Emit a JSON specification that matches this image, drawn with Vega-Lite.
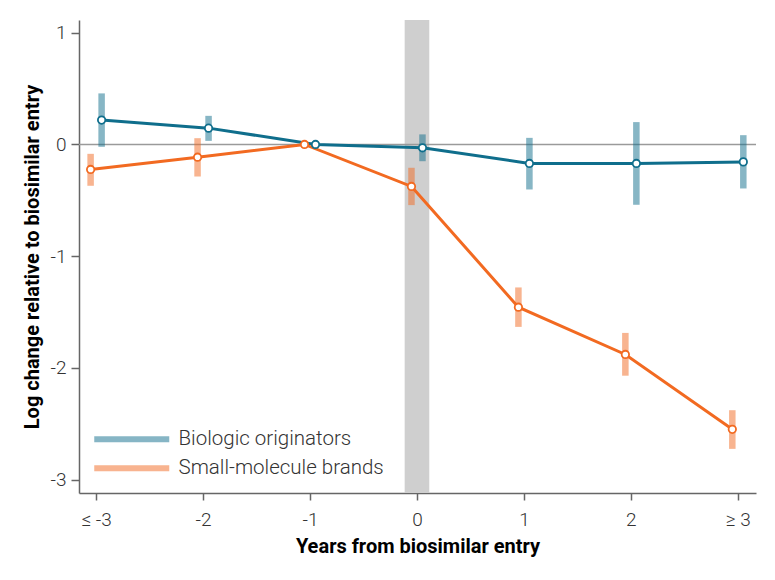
{
  "$schema": "https://vega.github.io/schema/vega-lite/v6.json",
  "width": 677,
  "height": 473,
  "autosize": {"type": "none"},
  "padding": {"left": 79, "top": 20, "right": 19, "bottom": 87},
  "config": {
    "view": {"stroke": null},
    "font": "Roboto",
    "axis": {
      "grid": false,
      "domainColor": "#666666",
      "domainWidth": 1.5,
      "tickColor": "#666666",
      "tickWidth": 1.5,
      "tickSize": 8,
      "labelFont": "Roboto",
      "labelFontSize": 19,
      "labelFontWeight": 300,
      "labelColor": "#333333",
      "labelPadding": 5,
      "titleFont": "Roboto",
      "titleFontSize": 20,
      "titleFontWeight": "bold",
      "titleColor": "#000000"
    }
  },
  "layer": [
    {
      "data": {"values": [{"x1": -0.115, "x2": 0.115}]},
      "mark": {"type": "rect", "color": "#cfcfcf"},
      "encoding": {
        "x": {"field": "x1", "type": "quantitative", "title": "Years from biosimilar entry", "scale": {"domain": [-3.16, 3.17], "nice": false, "zero": false}},
        "x2": {"field": "x2"}
      }
    },
    {
      "data": {"values": [{}]},
      "mark": {"type": "rule", "color": "#9a9a9a", "strokeWidth": 1.5},
      "encoding": {
        "y": {"datum": 0, "type": "quantitative", "title": "Log change relative to biosimilar entry"}
      }
    },
    {
      "data": {
        "values": [
          {"group": "Biologic originators", "year": -3, "est": 0.218, "lo": -0.021, "hi": 0.457},
          {"group": "Biologic originators", "year": -2, "est": 0.146, "lo": 0.032, "hi": 0.256},
          {"group": "Biologic originators", "year": -1, "est": 0, "lo": null, "hi": null},
          {"group": "Biologic originators", "year": 0, "est": -0.03, "lo": -0.15, "hi": 0.09},
          {"group": "Biologic originators", "year": 1, "est": -0.17, "lo": -0.403, "hi": 0.059},
          {"group": "Biologic originators", "year": 2, "est": -0.17, "lo": -0.54, "hi": 0.2},
          {"group": "Biologic originators", "year": 3, "est": -0.156, "lo": -0.394, "hi": 0.083},
          {"group": "Small-molecule brands", "year": -3, "est": -0.224, "lo": -0.37, "hi": -0.084},
          {"group": "Small-molecule brands", "year": -2, "est": -0.114, "lo": -0.287, "hi": 0.056},
          {"group": "Small-molecule brands", "year": -1, "est": 0, "lo": null, "hi": null},
          {"group": "Small-molecule brands", "year": 0, "est": -0.376, "lo": -0.543, "hi": -0.209},
          {"group": "Small-molecule brands", "year": 1, "est": -1.457, "lo": -1.633, "hi": -1.28},
          {"group": "Small-molecule brands", "year": 2, "est": -1.88, "lo": -2.07, "hi": -1.687},
          {"group": "Small-molecule brands", "year": 3, "est": -2.55, "lo": -2.725, "hi": -2.379}
        ]
      },
      "encoding": {
        "x": {
          "field": "year",
          "type": "quantitative",
          "title": "Years from biosimilar entry",
          "scale": {"domain": [-3.16, 3.17], "nice": false, "zero": false},
          "axis": {
            "values": [-3, -2, -1, 0, 1, 2, 3],
            "labelExpr": "datum.value == -3 ? '≤ -3' : datum.value == 3 ? '≥ 3' : toString(datum.value)",
            "labelPadding": 10,
            "tickSize": 7,
            "titlePadding": 7
          }
        },
        "color": {
          "field": "group",
          "type": "nominal",
          "scale": {"domain": ["Biologic originators", "Small-molecule brands"], "range": ["#0f6e8c", "#f26a21"]},
          "legend": {
            "title": null,
            "orient": "none",
            "legendX": 42.5,
            "legendY": 409,
            "symbolType": "M-12.5,0H12.5",
            "symbolSize": 36,
            "symbolStrokeWidth": 6,
            "symbolOpacity": 0.5,
            "labelFont": "Roboto",
            "labelFontSize": 20.5,
            "labelFontWeight": 300,
            "labelColor": "#333333",
            "labelOffset": 36.5,
            "labelLimit": 400,
            "rowPadding": 4,
            "padding": 0
          }
        }
      },
      "layer": [
        {
          "transform": [{"filter": "datum.group == 'Biologic originators'"}],
          "mark": {"type": "rule", "strokeWidth": 6.5, "opacity": 0.5, "xOffset": 5.5},
          "encoding": {
            "y": {"field": "lo", "type": "quantitative", "title": "Log change relative to biosimilar entry"},
            "y2": {"field": "hi"}
          }
        },
        {
          "transform": [{"filter": "datum.group == 'Small-molecule brands'"}],
          "mark": {"type": "rule", "strokeWidth": 6.5, "opacity": 0.5, "xOffset": -5.5},
          "encoding": {
            "y": {"field": "lo", "type": "quantitative", "title": "Log change relative to biosimilar entry"},
            "y2": {"field": "hi"}
          }
        },
        {
          "transform": [{"filter": "datum.group == 'Biologic originators'"}],
          "mark": {"type": "line", "strokeWidth": 3, "xOffset": 5.5},
          "encoding": {
            "y": {"field": "est", "type": "quantitative", "title": "Log change relative to biosimilar entry"}
          }
        },
        {
          "transform": [{"filter": "datum.group == 'Small-molecule brands'"}],
          "mark": {"type": "line", "strokeWidth": 3, "xOffset": -5.5},
          "encoding": {
            "y": {"field": "est", "type": "quantitative", "title": "Log change relative to biosimilar entry"}
          }
        },
        {
          "transform": [{"filter": "datum.group == 'Biologic originators'"}],
          "mark": {"type": "point", "filled": false, "fill": "white", "opacity": 1, "size": 55, "strokeWidth": 1.8, "xOffset": 5.5},
          "encoding": {
            "y": {"field": "est", "type": "quantitative", "title": "Log change relative to biosimilar entry"}
          }
        },
        {
          "transform": [{"filter": "datum.group == 'Small-molecule brands'"}],
          "mark": {"type": "point", "filled": false, "fill": "white", "opacity": 1, "size": 55, "strokeWidth": 1.8, "xOffset": -5.5},
          "encoding": {
            "y": {
              "field": "est",
              "type": "quantitative",
              "title": "Log change relative to biosimilar entry",
              "scale": {"domain": [-3.12, 1.114], "nice": false, "zero": false},
              "axis": {
                "values": [-3, -2, -1, 0, 1],
                "labelExpr": "toString(datum.value)",
                "titlePadding": 8
              }
            }
          }
        }
      ]
    }
  ]
}
